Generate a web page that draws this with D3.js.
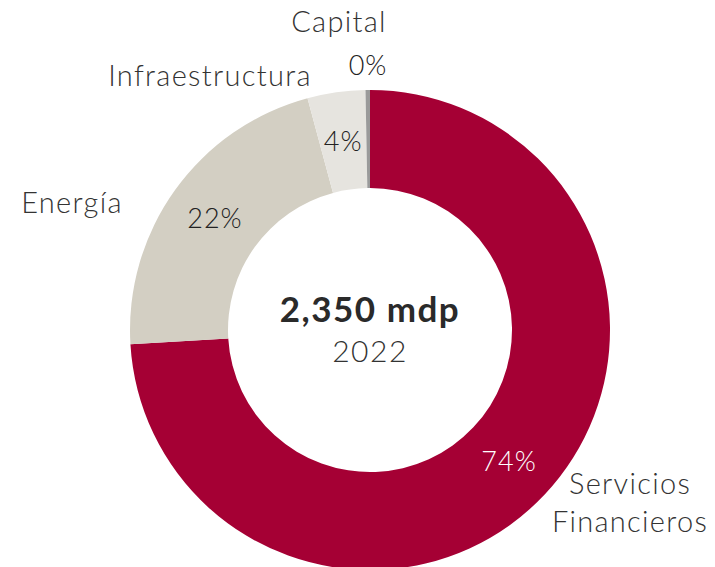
<!DOCTYPE html>
<html>
<head>
<meta charset="utf-8">
<script src="https://cdn.jsdelivr.net/npm/d3@7"></script>
<style>
  body { margin: 0; background: #fff; }
  text { font-family: "Lato", "Noto Sans", sans-serif; }
</style>
</head>
<body>
<svg id="container"></svg>
<script>
// data
var categories = ["Servicios Financieros", "Energía", "Infraestructura", "Capital"];
var values = [74.2, 21.8, 3.9, 0.3];
var pctLabels = ["74%", "22%", "4%", "0%"];
var colors = ["#a50034", "#d3cfc3", "#e6e4df", "#9a9a9a"];
var totalLabel = "2,350 mdp";
var yearLabel = "2022";

// layout of the outside category names (relative to centre)
var namePos = [
    {dx: 260, dy: 173, lines: ["Servicios", "Financieros"]},
    {dx: -298, dy: -127, lines: ["Energía"]},
    {dx: -160, dy: -254, lines: ["Infraestructura"]},
    {dx: -31, dy: -308, lines: ["Capital"]}
];

function drawChart(){
    var w = 715, h = 567;
    var cx = 370, cy = 330;
    var outerR = 240, innerR = 142;

    var svg = d3.select("#container")
        .attr("width", w)
        .attr("height", h)
        .append("g")
        .attr("transform", "translate(" + cx + "," + cy + ")");

    var pie = d3.pie().sort(null).value(d => d.value);
    var arcs = pie(values.map((v, i) => ({name: categories[i], value: v, pct: pctLabels[i], color: colors[i]})));

    var arc = d3.arc().innerRadius(innerR).outerRadius(outerR);

    svg.selectAll("path.slice")
        .data(arcs)
        .enter()
        .append("path")
        .attr("class", "slice")
        .attr("d", arc)
        .attr("fill", d => d.data.color);

    // percent labels inside the ring (capital sits outside, it is too thin)
    svg.selectAll("text.pct")
        .data(arcs)
        .enter()
        .append("text")
        .attr("class", "pct")
        .attr("transform", (d, i) => {
            var c = arc.centroid(d);
            if (i === 3) c = [-2, -265];
            return "translate(" + c[0] + "," + c[1] + ")";
        })
        .attr("text-anchor", "middle")
        .attr("dy", "0.36em")
        .style("font-size", "27px")
        .style("font-weight", 300)
        .style("letter-spacing", "1px")
        .attr("fill", (d, i) => i === 0 ? "#fff" : "#222")
        .text(d => d.data.pct);

    // category names
    var names = svg.selectAll("text.name")
        .data(namePos)
        .enter()
        .append("text")
        .attr("class", "name")
        .attr("text-anchor", "middle")
        .attr("transform", d => "translate(" + d.dx + "," + d.dy + ")")
        .style("font-size", "29px")
        .style("font-weight", 300)
        .style("letter-spacing", "1.3px")
        .attr("fill", "#333");

    names.selectAll("tspan")
        .data(d => d.lines.map((l, k) => ({l: l, k: k, n: d.lines.length})))
        .enter()
        .append("tspan")
        .attr("x", 0)
        .attr("y", d => (d.k - (d.n - 1) / 2) * 38)
        .attr("dy", "0.36em")
        .text(d => d.l);

    // centre
    svg.append("text")
        .attr("text-anchor", "middle")
        .attr("y", -8)
        .style("font-size", "35px")
        .style("font-weight", 700)
        .style("letter-spacing", "1.5px")
        .attr("fill", "#2a2a2a")
        .text(totalLabel);

    svg.append("text")
        .attr("text-anchor", "middle")
        .attr("y", 32)
        .style("font-size", "30px")
        .style("font-weight", 300)
        .style("letter-spacing", "1.5px")
        .attr("fill", "#333")
        .text(yearLabel);
}

drawChart();
</script>
</body>
</html>
